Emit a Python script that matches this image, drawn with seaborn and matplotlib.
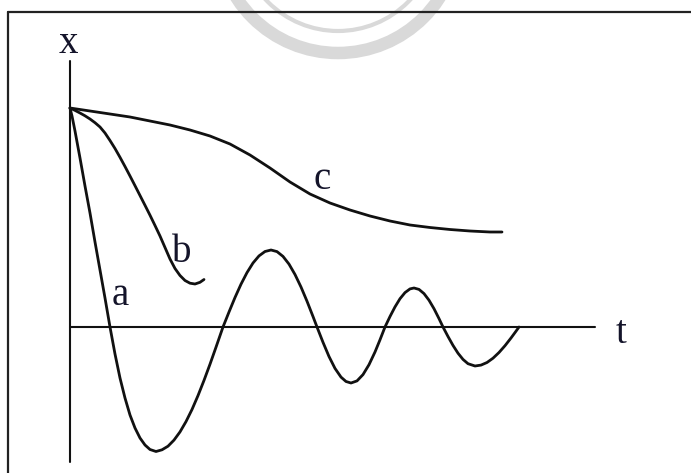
import matplotlib
matplotlib.use("Agg")
import matplotlib.pyplot as plt
from matplotlib.lines import Line2D
from matplotlib.patches import Arc
import pandas as pd
import seaborn as sns

# Response curves x(t): a = underdamped, b = critically damped, c = overdamped
t_a = [0.0, 0.2, 0.5, 1.0, 1.5, 2.0, 2.5, 3.0, 3.5, 4.0, 4.5, 5.0, 5.5, 6.0, 6.5,
       7.0, 7.5, 8.0, 8.6, 9.2, 9.8, 10.4, 11.0, 11.6, 12.2, 12.8, 13.4, 14.0,
       14.6, 15.3, 15.9, 16.5, 17.1, 17.7, 18.3, 18.9, 19.5, 20.1, 20.7, 21.3,
       21.9, 22.5, 23.1, 23.7, 24.3, 24.7, 25.3, 25.9, 26.5, 27.1, 27.6, 28.1,
       28.7, 29.3, 29.9, 30.5, 31.0, 31.5, 32.0, 32.5, 33.0, 33.5, 34.0, 34.4,
       34.9, 35.4, 35.9, 36.4, 36.9, 37.3, 37.8, 38.3, 38.8, 39.3, 39.8, 40.5,
       41.1, 41.7, 42.3, 42.9, 43.5, 44.1, 44.6, 44.9]
x_a = [21.9, 21.1, 19.6, 16.9, 14.1, 11.4, 8.5, 5.7, 2.9, 0.0, -2.7, -5.1, -7.1,
       -8.8, -10.1, -11.1, -11.8, -12.25, -12.45, -12.28, -11.92, -11.31, -10.49,
       -9.46, -8.25, -6.86, -5.34, -3.72, -2.02, 0.0, 1.5, 2.95, 4.28, 5.44, 6.4,
       7.11, 7.55, 7.7, 7.54, 7.06, 6.29, 5.25, 4.0, 2.58, 1.05, 0.0, -1.53, -2.95,
       -4.14, -5.01, -5.45, -5.6, -5.39, -4.76, -3.77, -2.5, -1.28, 0.0, 1.05, 2.01,
       2.83, 3.44, 3.81, 3.9, 3.76, 3.34, 2.68, 1.83, 0.84, 0.0, -0.95, -1.84,
       -2.62, -3.24, -3.67, -3.9, -3.81, -3.55, -3.12, -2.55, -1.87, -1.1, -0.42,
       0.0]

t_b = [0.0, 0.5, 1.0, 1.5, 2.0, 2.5, 3.0, 3.5, 4.0, 4.5, 5.0, 5.5, 6.0, 6.5, 7.0,
       7.5, 8.0, 8.5, 9.0, 9.5, 10.0, 10.5, 11.0, 11.5, 12.0, 12.5, 13.0, 13.4]
x_b = [21.9, 21.66, 21.4, 21.12, 20.8, 20.43, 20.0, 19.4, 18.65, 17.85, 16.97,
       16.05, 15.1, 14.13, 13.15, 12.17, 11.18, 10.15, 9.1, 7.95, 6.8, 5.85, 5.15,
       4.65, 4.38, 4.3, 4.47, 4.75]

t_c = [0.0, 2.0, 4.0, 6.0, 8.0, 10.0, 12.0, 14.0, 16.0, 18.0, 20.0, 22.0, 24.0,
       26.0, 28.0, 30.0, 32.0, 34.0, 36.0, 38.0, 40.0, 42.0, 43.2]
x_c = [21.9, 21.6, 21.3, 21.0, 20.6, 20.2, 19.7, 19.1, 18.3, 17.2, 15.9, 14.5,
       13.3, 12.4, 11.7, 11.1, 10.6, 10.2, 9.95, 9.75, 9.6, 9.5, 9.5]

curve_names = ["a", "b", "c"]
label_pos = {"a": (5.0, 3.2), "b": (11.2, 7.5), "c": (25.2, 14.8)}
axis_labels = ["x", "t"]

sns.set_theme(style="white")
plt.rcParams["font.family"] = ["Liberation Serif", "DejaVu Serif"]

fig = plt.figure(figsize=(6.91, 4.73), dpi=100)
ax = fig.add_axes([0, 0, 1, 1])
ax.set_xlim(-7.0, 62.1)
ax.set_ylim(-14.6, 32.7)
ax.axis("off")

# faint seal printed in the page background
for r, lw in [(12.1, 9), (9.9, 3.0)]:
    ax.add_patch(Arc((26.8, 39.5), 2 * r, 2 * r, theta1=180, theta2=360,
                     color="#d9d9d9", lw=lw, zorder=0))

# coordinate axes
ax.plot([0, 0], [26.6, -13.5], color="#111111", lw=1.5, solid_capstyle="butt")
ax.plot([0, 52.5], [0, 0], color="#111111", lw=1.5, solid_capstyle="butt")

df = pd.concat([
    pd.DataFrame({"t": t_a, "x": x_a, "curve": "a"}),
    pd.DataFrame({"t": t_b, "x": x_b, "curve": "b"}),
    pd.DataFrame({"t": t_c, "x": x_c, "curve": "c"}),
])
for name in curve_names:
    sns.lineplot(data=df[df["curve"] == name], x="t", y="x", sort=False,
                 estimator=None, color="#111111", lw=2.0, ax=ax)
    lx, ly = label_pos[name]
    ax.text(lx, ly, name, fontsize=28, ha="center", va="center", color="#14142a")
for ln in ax.get_lines():
    ln.set_solid_joinstyle("round")
    ln.set_solid_capstyle("round")

ax.text(-0.2, 28.4, axis_labels[0], fontsize=28, ha="center", va="center",
        color="#14142a")
ax.text(55.1, -0.6, axis_labels[1], fontsize=28, ha="center", va="center",
        color="#14142a")

# page frame
fig.add_artist(Line2D([8 / 691, 1], [1 - 12 / 473, 1 - 12 / 473],
                      transform=fig.transFigure, color="#222222", lw=1.6))
fig.add_artist(Line2D([8 / 691, 8 / 691], [0, 1 - 12 / 473],
                      transform=fig.transFigure, color="#222222", lw=1.6))

fig.savefig("out.png", dpi=100)
